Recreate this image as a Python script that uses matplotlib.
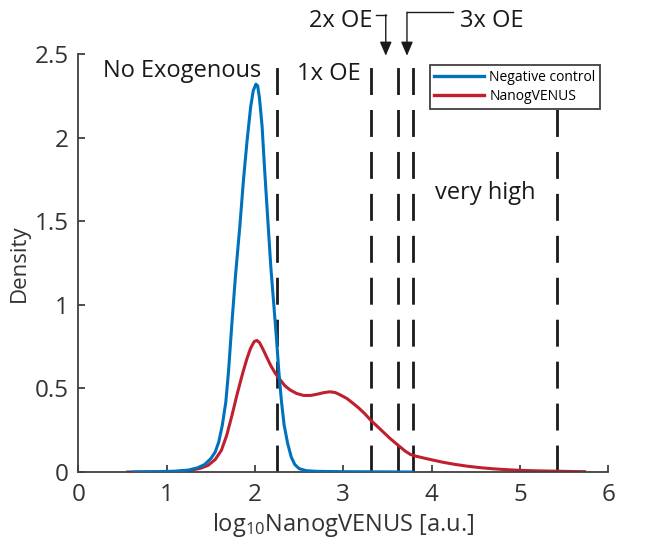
"""
Density of log10 NanogVENUS intensity for the negative control and the
NanogVENUS line, with gates for the exogenous expression levels.
"""

import matplotlib
matplotlib.use("Agg")
import matplotlib.pyplot as plt

# negative control density (x = log10 intensity)
neg_x = [0.62, 0.9, 1.1, 1.25, 1.35, 1.43, 1.5, 1.55, 1.59, 1.63, 1.67, 1.7,
         1.74, 1.78, 1.83, 1.87, 1.91, 1.95, 1.98, 2.01, 2.03, 2.05, 2.08,
         2.11, 2.14, 2.18, 2.21, 2.24, 2.27, 2.3, 2.33, 2.37, 2.41, 2.45, 2.5,
         2.58, 2.7, 3.0, 3.4, 3.78]
neg_y = [0.0, 0.002, 0.005, 0.012, 0.025, 0.045, 0.08, 0.12, 0.18, 0.28, 0.42,
         0.6, 0.9, 1.18, 1.48, 1.75, 1.98, 2.18, 2.28, 2.32, 2.31, 2.24, 2.07,
         1.8, 1.55, 1.22, 1.02, 0.82, 0.6, 0.42, 0.28, 0.17, 0.09, 0.045, 0.02,
         0.008, 0.004, 0.002, 0.001, 0.0]

# NanogVENUS density
venus_x = [0.56, 0.9, 1.1, 1.25, 1.38, 1.47, 1.55, 1.62, 1.68, 1.74, 1.8, 1.86,
           1.91, 1.95, 1.99, 2.02, 2.05, 2.09, 2.13, 2.18, 2.23, 2.28, 2.34,
           2.4, 2.47, 2.55, 2.63, 2.7, 2.78, 2.85, 2.91, 2.97, 3.04, 3.1, 3.17,
           3.24, 3.31, 3.38, 3.45, 3.53, 3.62, 3.7, 3.76, 3.82, 3.9, 4.0, 4.13,
           4.26, 4.4, 4.55, 4.7, 4.85, 5.0, 5.2, 5.4, 5.6, 5.73]
venus_y = [0.0, 0.001, 0.003, 0.008, 0.022, 0.04, 0.075, 0.13, 0.22, 0.34,
           0.47, 0.59, 0.68, 0.74, 0.78, 0.787, 0.775, 0.735, 0.69, 0.635,
           0.59, 0.555, 0.515, 0.49, 0.47, 0.458, 0.458, 0.465, 0.475, 0.48,
           0.475, 0.46, 0.44, 0.415, 0.385, 0.35, 0.31, 0.275, 0.24, 0.2, 0.16,
           0.125, 0.105, 0.095, 0.085, 0.073, 0.058, 0.046, 0.035, 0.026,
           0.019, 0.014, 0.01, 0.007, 0.005, 0.003, 0.002]

# expression level gates
gates = [2.25, 3.31, 3.62, 3.79, 5.42]

plt.rcParams["font.family"] = ["Open Sans", "DejaVu Sans"]
plt.rcParams["mathtext.default"] = "regular"
plt.rcParams["lines.scale_dashes"] = False

fig = plt.figure(figsize=(6.54, 5.46), dpi=100)
ax = fig.add_axes([0.1197, 0.1355, 0.8106, 0.7655])

blue = "#0072BD"
red = "#C0202E"
grey = "#404040"
ink = "#1a1a1a"

for g in gates:
    ax.plot([g, g], [0, 2.5], color=ink, lw=2.0, dashes=(19.4, 10.8),
            zorder=1)

ax.plot(venus_x, venus_y, color=red, lw=2.2, zorder=2, label="NanogVENUS")
ax.plot(neg_x, neg_y, color=blue, lw=2.2, zorder=3, label="Negative control")

ax.set_xlim(0, 6)
ax.set_ylim(0, 2.5)
ax.set_xticks([0, 1, 2, 3, 4, 5, 6])
ax.set_yticks([0, 0.5, 1, 1.5, 2, 2.5])
ax.set_yticklabels(["0", "0.5", "1", "1.5", "2", "2.5"])
for side in ["top", "right"]:
    ax.spines[side].set_visible(False)
for side in ["left", "bottom"]:
    ax.spines[side].set_color(grey)
    ax.spines[side].set_linewidth(1.3)
ax.tick_params(direction="in", length=5, width=1.3, color=grey,
               labelcolor="#333333", labelsize=17.5)
ax.tick_params(axis="x", pad=8)
ax.tick_params(axis="y", pad=7)

ax.set_xlabel(r"log$_{10}$NanogVENUS [a.u.]", fontsize=17, color="#333333",
              labelpad=3)
ax.set_ylabel("Density", fontsize=16, color="#333333", labelpad=3)

txt = dict(fontsize=17, color=ink, va="center")
ax.text(0.28, 2.40, "No Exogenous", **txt)
ax.text(2.48, 2.38, "1x OE", **txt)
ax.text(4.04, 1.67, "very high", **txt)
ax.text(3.33, 2.70, "2x OE", ha="right", clip_on=False, **txt)
ax.text(4.32, 2.70, "3x OE", ha="left", clip_on=False, **txt)

arrow = dict(arrowstyle="-|>,head_length=0.7,head_width=0.3", color=ink,
             lw=1.0, mutation_scale=12, shrinkA=0, shrinkB=0)
ax.plot([3.37, 3.48], [2.735, 2.735], color=ink, lw=1.0, clip_on=False)
ax.annotate("", xy=(3.48, 2.49), xytext=(3.48, 2.735), arrowprops=arrow,
            annotation_clip=False)
ax.plot([3.72, 4.24], [2.75, 2.75], color=ink, lw=1.0, clip_on=False)
ax.annotate("", xy=(3.72, 2.49), xytext=(3.72, 2.75), arrowprops=arrow,
            annotation_clip=False)

handles, labels = ax.get_legend_handles_labels()
leg = ax.legend(handles[::-1], labels[::-1], loc="upper right",
                bbox_to_anchor=(0.985, 0.974), borderaxespad=0, fontsize=10,
                frameon=True, fancybox=False, framealpha=1, handlelength=3.6,
                handletextpad=0.35, labelspacing=0.3, borderpad=0.35)
leg.get_frame().set_edgecolor(grey)
leg.get_frame().set_linewidth(1.3)
for line in leg.get_lines():
    line.set_linewidth(2.4)

fig.savefig("out.png", dpi=100)
